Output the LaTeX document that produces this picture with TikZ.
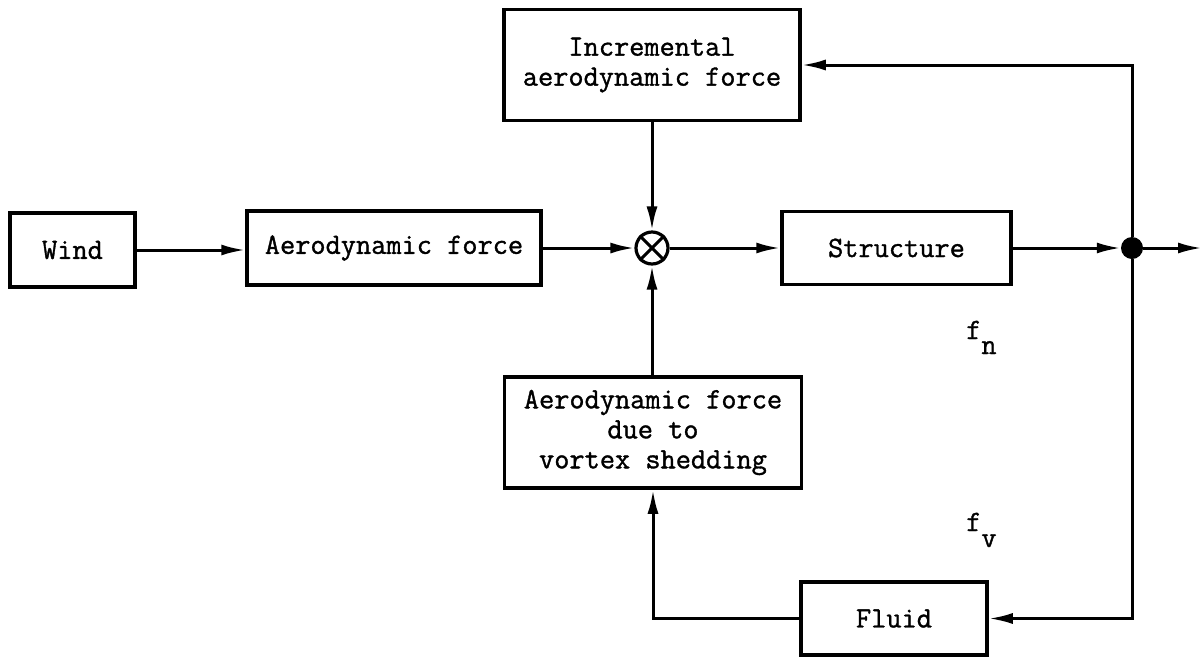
\documentclass[tikz,border=0pt]{standalone}
\usepackage{fontspec}
\newfontfamily\twfont{Latin Modern Mono}[BoldFont=Latin Modern Mono, BoldFeatures={FakeBold=1.2}]
\usetikzlibrary{arrows.meta}
\begin{document}
\begin{tikzpicture}[x=1pt,y=-1pt,
  box/.style={draw, line width=3.5pt, inner sep=0pt, align=center,
    font=\twfont\bfseries\fontsize{29.5}{30}\selectfont},
  conn/.style={line width=3pt, -{Latex[length=24pt,width=11pt]}},
  lbl/.style={inner sep=0pt, font=\twfont\bfseries\fontsize{29.5}{30}\selectfont}]
\useasboundingbox (0,0) rectangle (1203,657);
\node[box, minimum width=125pt, minimum height=74pt] (wind) at (72.5,250) {Wind};
\node[box, minimum width=294pt, minimum height=74pt] (aero) at (394,248) {Aerodynamic force};
\node[draw, circle, line width=3.2pt, minimum size=32pt, inner sep=0pt] (sum) at (652,248) {};
\draw[line width=3pt] (sum.north west) -- (sum.south east) (sum.north east) -- (sum.south west);
\node[box, minimum width=229pt, minimum height=73pt] (struct) at (896.5,248) {Structure};
\node[circle, fill=black, minimum size=22pt, inner sep=0pt] (dot) at (1132,248) {};
\coordinate (out) at (1202,248);
\node[box, minimum width=296pt, minimum height=111pt] (inc) at (652,65) {Incremental\\aerodynamic force};
\node[box, minimum width=297pt, minimum height=111pt] (vort) at (653,432.5) {Aerodynamic force\\due to\\vortex shedding};
\node[box, minimum width=186pt, minimum height=73pt] (fluid) at (894,618.5) {Fluid};
\node[lbl, anchor=base west] (fn) at (966,339) {f\raisebox{-15pt}{n}};
\node[lbl, anchor=base west] (fv) at (966,531) {f\raisebox{-16pt}{v}};
\draw[conn] (wind.east) -- (wind.east -| aero.west);
\draw[conn] (aero.east) -- (sum.west);
\draw[conn] (inc.south -| sum.north) -- (sum.north);
\draw[conn] (vort.north -| sum.south) -- (sum.south);
\draw[conn] (sum.east) -- (struct.west);
\draw[conn] (struct.east) -- (dot.west);
\draw[conn] (dot) -- (out);
\draw[conn] (dot.north) |- (inc.east);
\draw[conn] (dot.south) |- (fluid.east);
\draw[conn] (fluid.west) -| (vort.south);
\end{tikzpicture}
\end{document}
